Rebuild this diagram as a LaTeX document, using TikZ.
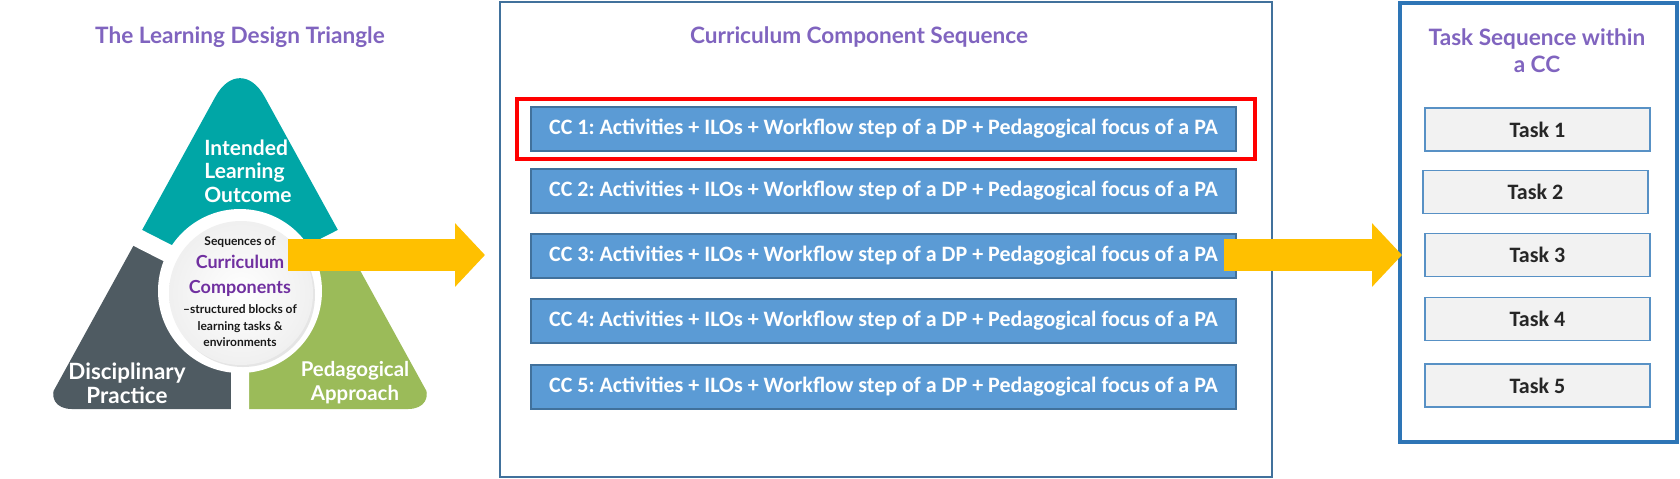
\documentclass[tikz,border=0pt]{standalone}
\usepackage{fontspec}
\setmainfont{Carlito}
\newfontfamily\headfont{Lato}
\usetikzlibrary{arrows.meta}
\frenchspacing
\definecolor{ldteal}{HTML}{00A6A6}
\definecolor{ldgrey}{HTML}{4F5B62}
\definecolor{ldgreen}{HTML}{9BBB59}
\definecolor{ldpurple}{HTML}{8064BF}
\definecolor{ccpurple}{HTML}{7030A0}
\definecolor{ccblue}{HTML}{5B9BD5}
\definecolor{ccedge}{HTML}{41719C}
\definecolor{frameblue}{HTML}{2E75B6}
\definecolor{arrowgold}{HTML}{FFC000}

\begin{document}
\begin{tikzpicture}[x=0.5pt,y=-0.5pt,
  cc node/.style={rectangle, draw=ccedge, fill=ccblue, line width=0.6pt, minimum width=352.5pt, minimum height=22pt, inner sep=0pt, text=white, font=\bfseries\fontsize{11}{13}\selectfont},
  task node/.style={rectangle, draw=frameblue!80, fill=black!5, line width=0.7pt, minimum width=112.5pt, minimum height=21.5pt, inner sep=0pt, text=black!85, font=\bfseries\fontsize{11}{13}\selectfont},
  title node/.style={text=ldpurple, font=\headfont\bfseries\fontsize{11.3}{13.5}\selectfont, align=center},
  corner node/.style={text=white, inner sep=0pt, font=\headfont\bfseries\fontsize{10.5}{11.8}\selectfont},
  circ small/.style={text=black!90, font=\headfont\bfseries\fontsize{6}{8.25}\selectfont, align=center, inner sep=0pt},
  circ big/.style={text=ccpurple, font=\headfont\bfseries\fontsize{9}{12.5}\selectfont, align=center, inner sep=0pt},
  big arrow/.style={draw=arrowgold, line width=16pt, -{Triangle[length=15pt,width=31pt]}}]
  \useasboundingbox (0,0) rectangle (1680,478);

  \node[title node] (ldtitle) at (240,37) {The Learning Design Triangle};
  \node[title node] (cctitle) at (859,37) {Curriculum Component Sequence};

  \begin{scope}
    \clip[rounded corners=15pt] (240,52) -- (438,409) -- (42,409) -- cycle;
    \clip[rounded corners=25.5pt] (240,52) -- (790,1052) -- (-310,1052) -- cycle;
    \fill[ldteal] (240,290) -- (85,211) -- (240,0) -- (395,211) -- cycle;
    \fill[ldgrey] (240,290) -- (85,211) -- (0,460) -- (240,460) -- cycle;
    \fill[ldgreen] (240,290) -- (395,211) -- (480,460) -- (240,460) -- cycle;
  \end{scope}
  \draw[white, line width=9pt] (240,290) -- (85,211) (240,290) -- (395,211) (240,290) -- (240,460);
  \fill[white] (240,291) circle (41pt);
  \fill[black!10] (243,295) circle (36pt);
  \shade[inner color=white, outer color=black!6] (241,293) circle (36pt);

  \node[corner node, align=left, anchor=west] (ilo) at (204,171) {Intended\\Learning\\Outcome};
  \node[corner node, align=center, font=\headfont\bfseries\fontsize{11.2}{12}\selectfont] (dp) at (127,383) {Disciplinary\\Practice};
  \node[corner node, align=center, font=\headfont\bfseries\fontsize{10.2}{12}\selectfont] (pa) at (355,383) {Pedagogical\\Approach};

  \node[circ small] (seq) at (240,242) {Sequences of};
  \node[circ big] (comp) at (240,275.5) {Curriculum\\Components};
  \node[circ small] (blocks) at (240,326) {–structured blocks of\\learning tasks \&\\environments};

  \coordinate (ls) at (288,255);
  \coordinate (lt) at (485,255);
  \draw[big arrow] (ls) -- (lt);

  \node[draw=ccedge, line width=0.75pt, minimum width=386pt, minimum height=237.5pt, inner sep=0pt] (ccframe) at (886,239.5) {};
  \node[draw=red, line width=1.75pt, minimum width=369pt, minimum height=30pt, inner sep=0pt] (ccpick) at (886,129) {};
  \node[cc node] (cc1) at (883.5,129) {CC 1: Activities + ILOs + Workflow step of a DP + Pedagogical focus of a PA};
  \node[cc node] (cc2) at (883.5,191) {CC 2: Activities + ILOs + Workflow step of a DP + Pedagogical focus of a PA};
  \node[cc node] (cc3) at (883.5,256) {CC 3: Activities + ILOs + Workflow step of a DP + Pedagogical focus of a PA};
  \node[cc node] (cc4) at (883.5,321) {CC 4: Activities + ILOs + Workflow step of a DP + Pedagogical focus of a PA};
  \node[cc node] (cc5) at (883.5,387) {CC 5: Activities + ILOs + Workflow step of a DP + Pedagogical focus of a PA};

  \node[draw=frameblue, line width=2pt, minimum width=138.5pt, minimum height=219.5pt, inner sep=0pt] (taskframe) at (1538.5,222.5) {};
  \node[title node] (tasktitle) at (1537,50.5) {Task Sequence within\\a CC};
  \node[task node] (t1) at (1537.5,129.5) {Task 1};
  \node[task node] (t2) at (1535.5,192) {Task 2};
  \node[task node] (t3) at (1537.5,255) {Task 3};
  \node[task node] (t4) at (1537.5,319) {Task 4};
  \node[task node] (t5) at (1537.5,385.5) {Task 5};

  \coordinate (rs) at (1224,255);
  \coordinate (rt) at (1402,255);
  \draw[big arrow] (rs) -- (rt);
\end{tikzpicture}
\end{document}
